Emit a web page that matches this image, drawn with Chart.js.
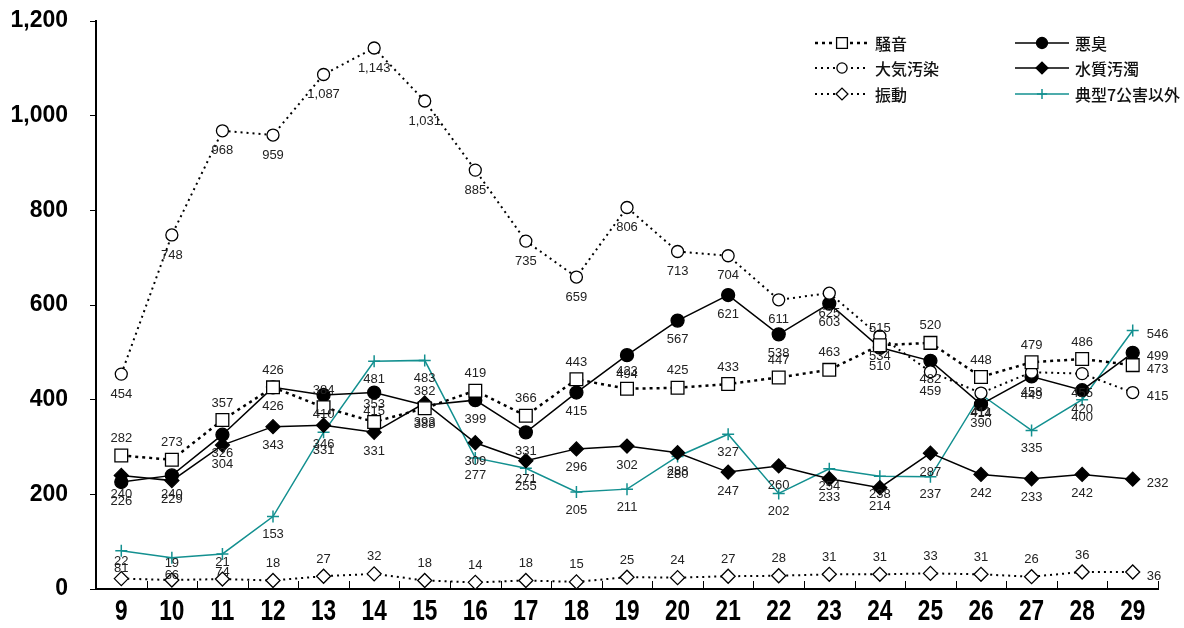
<!DOCTYPE html>
<html>
<head>
<meta charset="utf-8">
<script src="https://cdn.jsdelivr.net/npm/chart.js@4.4.0/dist/chart.umd.min.js"></script>
<style>
  html, body { margin: 0; padding: 0; background: #fff; }
  #wrap { width: 1184px; height: 628px; }
</style>
</head>
<body>
<div id="wrap"><canvas id="myChart" width="1184" height="628"></canvas></div>
<script>
// years (Heisei) on the x axis
const years = ['9','10','11','12','13','14','15','16','17','18','19','20','21','22','23','24','25','26','27','28','29'];

// complaints per type
const noise     = [282, 273, 357, 426, 384, 353, 382, 419, 366, 443, 423, 425, 433, 447, 463, 515, 520, 448, 479, 486, 473];
const air       = [454, 748, 968, 959, 1087, 1143, 1031, 885, 735, 659, 806, 713, 704, 611, 625, 534, 459, 414, 458, 455, 415];
const vibration = [22, 19, 21, 18, 27, 32, 18, 14, 18, 15, 25, 24, 27, 28, 31, 31, 33, 31, 26, 36, 36];
const odor      = [226, 240, 326, 426, 410, 415, 388, 399, 331, 415, 494, 567, 621, 538, 603, 510, 482, 390, 449, 420, 499];
const water     = [240, 229, 304, 343, 346, 331, 393, 309, 271, 296, 302, 288, 247, 260, 233, 214, 287, 242, 233, 242, 232];
const others    = [81, 66, 74, 153, 331, 481, 483, 277, 255, 205, 211, 280, 327, 202, 254, 238, 237, 411, 335, 400, 546];

const yMin = 0, yMax = 1200, yStep = 200;

const TEAL = '#139090';

function drawMarker(ctx, style, x, y, r, fill, stroke, lw) {
  ctx.save();
  ctx.lineWidth = lw;
  ctx.strokeStyle = stroke;
  ctx.fillStyle = fill;
  ctx.setLineDash([]);
  ctx.beginPath();
  if (style === 'circle') {
    ctx.arc(x, y, r, 0, Math.PI * 2);
  } else if (style === 'rect') {
    const s = Math.SQRT1_2 * r;
    ctx.rect(x - s, y - s, 2 * s, 2 * s);
  } else if (style === 'rectRot') {
    ctx.moveTo(x - r, y); ctx.lineTo(x, y - r); ctx.lineTo(x + r, y); ctx.lineTo(x, y + r); ctx.closePath();
  } else if (style === 'cross') {
    ctx.moveTo(x - r, y); ctx.lineTo(x + r, y); ctx.moveTo(x, y - r); ctx.lineTo(x, y + r);
    ctx.stroke(); ctx.restore(); return;
  }
  ctx.fill();
  ctx.stroke();
  ctx.restore();
}

// value labels next to each point
const pointLabels = {
  id: 'pointLabels',
  afterDatasetsDraw(chart) {
    const ctx = chart.ctx;
    ctx.save();
    ctx.font = '13px "Liberation Sans", Arial, sans-serif';
    ctx.fillStyle = '#222';
    chart.data.datasets.forEach((ds, i) => {
      const meta = chart.getDatasetMeta(i);
      meta.data.forEach((pt, j) => {
        let x = pt.x, y = pt.y + ds.labelDy;
        ctx.textAlign = 'center';
        ctx.textBaseline = 'middle';
        if (j === meta.data.length - 1) {
          ctx.textAlign = 'left';
          x = pt.x + 14;
          y = pt.y + 4;
        }
        ctx.fillText(ds.data[j].toLocaleString('en-US'), x, y);
      });
    });
    ctx.restore();
  }
};

// x axis: small ticks pointing up between categories, condensed year labels
const xAxisExtras = {
  id: 'xAxisExtras',
  afterDraw(chart) {
    const { ctx, chartArea, scales: { x } } = chart;
    const w = x.getPixelForValue(1) - x.getPixelForValue(0);
    ctx.save();
    ctx.strokeStyle = '#000';
    ctx.lineWidth = 1;
    for (let i = 1; i <= years.length; i++) {
      const px = Math.round(x.getPixelForValue(0) - w / 2 + i * w) + 0.5;
      ctx.beginPath();
      ctx.moveTo(px, chartArea.bottom);
      ctx.lineTo(px, chartArea.bottom - 8);
      ctx.stroke();
    }
    ctx.fillStyle = '#000';
    ctx.font = 'bold 29px "Liberation Sans", Arial, sans-serif';
    ctx.textAlign = 'center';
    ctx.textBaseline = 'alphabetic';
    years.forEach((yr, i) => {
      const px = x.getPixelForValue(i);
      ctx.save();
      ctx.translate(px, 620);
      ctx.scale(0.78, 1);
      ctx.fillText(yr, 0, 0);
      ctx.restore();
    });
    ctx.restore();
  }
};

// two-column legend at top right
const gridLegend = {
  id: 'gridLegend',
  afterDraw(chart) {
    const ctx = chart.ctx;
    const cols = [815, 1015];
    const rows = [43, 68, 94];
    ctx.save();
    chart.data.datasets.forEach((ds, i) => {
      const x0 = cols[Math.floor(i / 3)];
      const y0 = rows[i % 3];
      ctx.strokeStyle = ds.borderColor;
      ctx.lineWidth = ds.borderWidth;
      ctx.setLineDash(ds.borderDash || []);
      ctx.beginPath();
      ctx.moveTo(x0, y0);
      ctx.lineTo(x0 + 54, y0);
      ctx.stroke();
      drawMarker(ctx, ds.pointStyle, x0 + 27, y0, ds.pointRadius * 0.85, ds.pointBackgroundColor, ds.pointBorderColor, ds.pointBorderWidth);
      ctx.fillStyle = '#111';
      ctx.font = '500 16px "Noto Sans CJK JP", sans-serif';
      ctx.textAlign = 'left';
      ctx.textBaseline = 'middle';
      ctx.fillText(ds.label, x0 + 60, y0 + 1);
    });
    ctx.restore();
  }
};

function series(label, values, opts) {
  return Object.assign({
    label: label,
    data: values,
    borderColor: '#000',
    borderWidth: 1.5,
    pointBorderColor: '#000',
    pointBorderWidth: 1.3,
    pointBackgroundColor: '#fff',
    pointRadius: 6,
    pointHoverRadius: 6,
    tension: 0,
    fill: false,
    labelDy: 18
  }, opts);
}

const data = {
  labels: years,
  datasets: [
    series('騒音', noise, { borderDash: [3, 4], borderWidth: 2.5, pointStyle: 'rect', pointRadius: 9, labelDy: -17 }),
    series('大気汚染', air, { borderDash: [2, 4], borderWidth: 2, pointStyle: 'circle', pointRadius: 6, labelDy: 20 }),
    series('振動', vibration, { borderDash: [2, 4], borderWidth: 2, pointStyle: 'rectRot', pointRadius: 7, labelDy: -17 }),
    series('悪臭', odor, { pointStyle: 'circle', pointRadius: 6.5, pointBackgroundColor: '#000', labelDy: 19 }),
    series('水質汚濁', water, { pointStyle: 'rectRot', pointRadius: 7, pointBackgroundColor: '#000', labelDy: 19 }),
    series('典型7公害以外', others, { borderColor: TEAL, pointStyle: 'cross', pointRadius: 6, pointBorderColor: TEAL, pointBackgroundColor: TEAL, pointBorderWidth: 1.5, labelDy: 18 })
  ]
};

const config = {
  type: 'line',
  data: data,
  plugins: [pointLabels, xAxisExtras, gridLegend],
  options: {
    responsive: false,
    animation: false,
    devicePixelRatio: 1,
    layout: { padding: { top: 21, right: 26, left: 0, bottom: 0 } },
    plugins: {
      legend: { display: false },
      tooltip: { enabled: false }
    },
    scales: {
      x: {
        offset: true,
        grid: { display: false, drawTicks: false },
        border: { display: true, color: '#000', width: 2 },
        ticks: { display: false },
        afterFit(scale) { scale.height = 39; scale.paddingLeft = 0; scale.paddingRight = 0; }
      },
      y: {
        min: yMin,
        max: yMax,
        grid: { drawOnChartArea: false, drawTicks: true, tickLength: 6, color: '#000' },
        border: { display: true, color: '#000', width: 2 },
        ticks: {
          stepSize: yStep,
          color: '#000',
          padding: 22,
          font: { family: '"Liberation Sans", Arial, sans-serif', size: 23, weight: 'bold' },
          callback: (v) => v.toLocaleString('en-US')
        },
        afterFit(scale) { scale.width = 96; scale.paddingTop = 0; scale.paddingBottom = 0; }
      }
    }
  }
};

const myChart = new Chart(document.getElementById('myChart'), config);
</script>
</body>
</html>
